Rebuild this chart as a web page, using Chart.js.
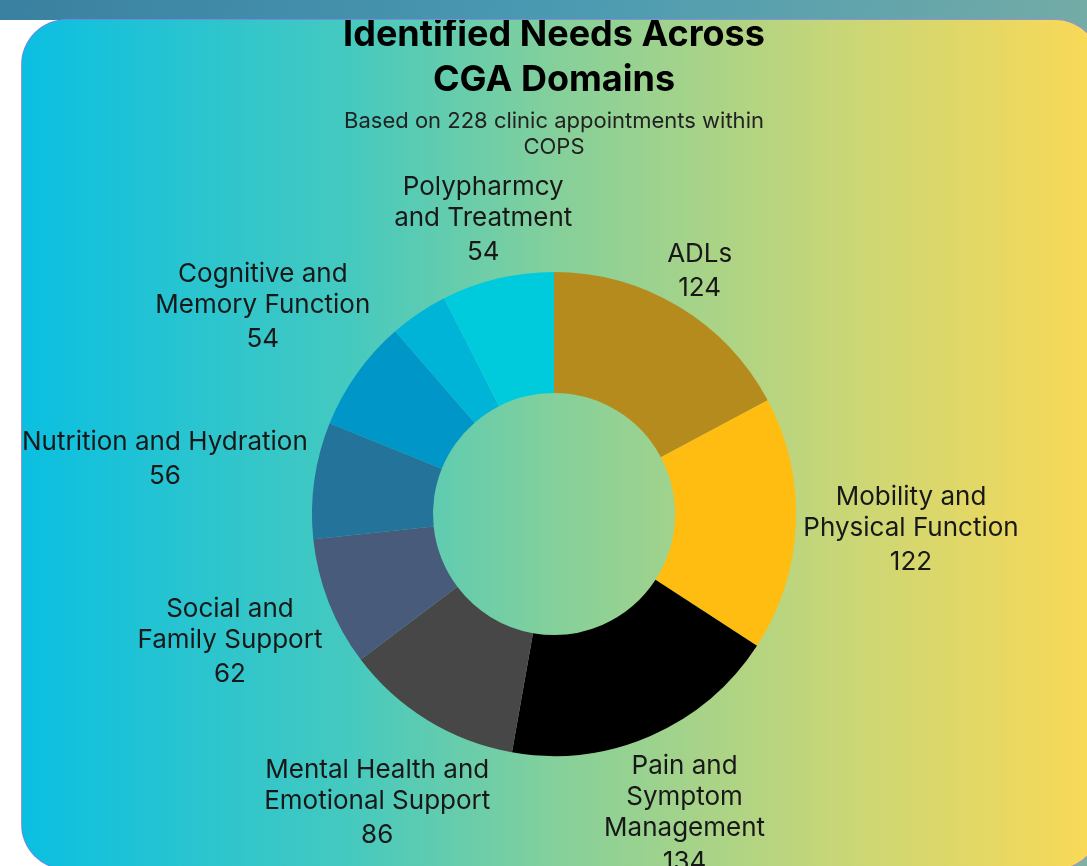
<!DOCTYPE html>
<html>
<head>
<meta charset="utf-8">
<title>Identified Needs Across CGA Domains</title>
<script src="https://cdn.jsdelivr.net/npm/chart.js@4.4.1/dist/chart.umd.min.js"></script>
<style>
  html, body { margin: 0; padding: 0; }
  body {
    width: 1087px; height: 866px; overflow: hidden; position: relative;
    background: linear-gradient(100deg, #3a80a0 0%, #4a9ab2 45%, #7fb0a3 100%);
  }
  #side { position: absolute; left: 0; top: 20px; width: 90px; height: 846px; background: #fff; }
  #card {
    position: absolute; left: 21px; top: 19px; width: 1080px; height: 851px;
    box-sizing: border-box; border: 1px solid rgba(130, 120, 235, 0.75);
    border-radius: 46px; overflow: hidden;
    background: linear-gradient(to right, #0bbfe1 0%, #44c9c0 30%, #86d09a 50%, #c6d678 75%, #fbd956 100%);
  }
  #card canvas { position: absolute; left: -1px; top: -12px; }
</style>
</head>
<body>
<div id="side"></div>
<div id="card">
  <canvas id="needsChart" width="1066" height="870"></canvas>
</div>
<script>
// CGA domains, clockwise from 12 o'clock
const categories = [
  ["ADLs"],
  ["Mobility and", "Physical Function"],
  ["Pain and", "Symptom", "Management"],
  ["Mental Health and", "Emotional Support"],
  ["Social and", "Family Support"],
  ["Nutrition and Hydration"],
  ["Cognitive and", "Memory Function"],
  ["Other"],
  ["Polypharmcy", "and Treatment"],
];
const needCounts = [124, 122, 134, 86, 62, 56, 54, 28, 54];
const sliceColors = [
  "#b58b1d", "#ffbd12", "#000000", "#474747", "#495b7b",
  "#23739a", "#0096c7", "#00b4d8", "#00cbdc",
];
const titleLines = ["Identified Needs Across", "CGA Domains"];
const subtitleLines = ["Based on 228 clinic appointments within", "COPS"];

const FONT = "Inter, 'Noto Sans', sans-serif";
Chart.defaults.font.family = FONT;

// labels outside each slice, centred on the slice's middle ray
const outLabels = {
  id: "outLabels",
  afterDatasetsDraw(chart) {
    const ctx = chart.ctx;
    const meta = chart.getDatasetMeta(0);
    const values = chart.data.datasets[0].data;
    const total = values.reduce((a, b) => a + b, 0);
    const lineH = 31;
    const valueGap = 3;
    const padX = 6;
    const padY = -8;

    ctx.save();
    ctx.font = "26px " + FONT;
    ctx.fillStyle = "#181818";
    ctx.textAlign = "center";
    ctx.textBaseline = "middle";

    meta.data.forEach((arc, i) => {
      if (values[i] / total < 0.05) return; // too thin to label
      const p = arc.getProps(["x", "y", "startAngle", "endAngle", "outerRadius"], true);
      const mid = (p.startAngle + p.endAngle) / 2;
      const vx = Math.cos(mid);
      const vy = Math.sin(mid);
      const lines = [...chart.data.labels[i], String(values[i])];
      const w = Math.max(...lines.map((l) => ctx.measureText(l).width));
      const h = lines.length * lineH + valueGap;
      const ext = (w / 2 + padX) * Math.abs(vx) + (h / 2 + padY) * Math.abs(vy);
      const cx = p.x + vx * (p.outerRadius + ext);
      const cy = p.y + vy * (p.outerRadius + ext);
      let ly = cy - h / 2 + lineH / 2;
      lines.forEach((line, j) => {
        if (j === lines.length - 1) ly += valueGap;
        ctx.fillText(line, cx, ly);
        ly += lineH;
      });
    });
    ctx.restore();
  },
};

new Chart(document.getElementById("needsChart"), {
  type: "doughnut",
  data: {
    labels: categories,
    datasets: [
      {
        data: needCounts,
        backgroundColor: sliceColors,
        borderWidth: 0,
        hoverOffset: 0,
        offset: 0,
      },
    ],
  },
  options: {
    responsive: false,
    animation: false,
    events: [],
    cutout: "50%",
    layout: { padding: { top: 0, bottom: 122, left: 0, right: 0 } },
    plugins: {
      legend: { display: false },
      tooltip: { enabled: false },
      title: {
        display: true,
        text: titleLines,
        color: "#000",
        font: { size: 36, weight: "bold", lineHeight: 1.25 },
        padding: { top: 4.9, bottom: 5.1 },
      },
      subtitle: {
        display: true,
        text: subtitleLines,
        color: "#222",
        font: { size: 22, lineHeight: 1.18 },
        padding: { top: 0, bottom: 112 },
      },
    },
  },
  plugins: [outLabels],
});
</script>
</body>
</html>
